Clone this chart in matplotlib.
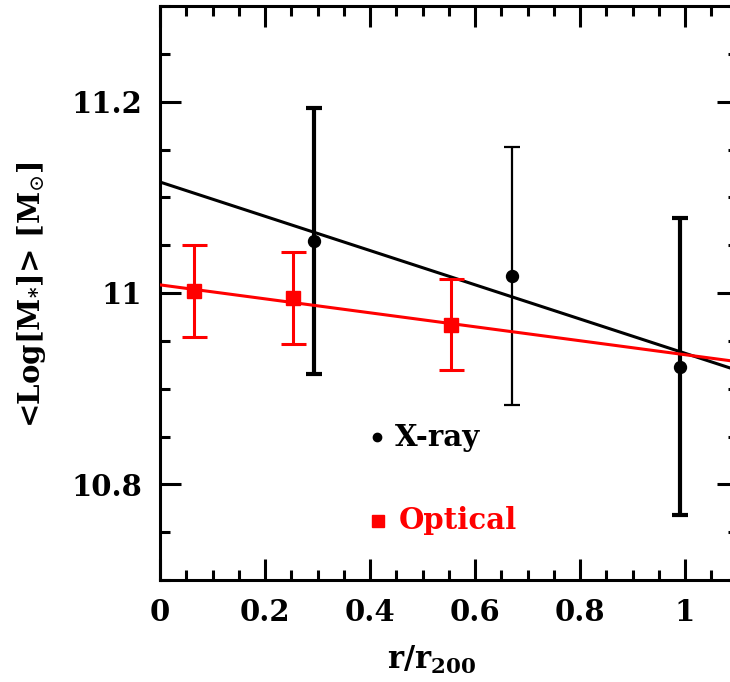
import numpy as np
import matplotlib
matplotlib.use("Agg")
import matplotlib.pyplot as plt
from matplotlib.ticker import MultipleLocator

# Mean stellar mass versus cluster-centric radius
xray_r = [0.293, 0.670, 0.990]
xray_logm = [11.054, 11.018, 10.923]
xray_err = [0.139, 0.135, 0.155]
xray_lw = [3.0, 1.6, 3.0]

opt_r = [0.065, 0.253, 0.554]
opt_logm = [11.002, 10.995, 10.967]
opt_err = [0.048, 0.048, 0.048]

# Linear fits: log M = a + b * r
xray_fit = (11.116, -0.179)
opt_fit = (11.0085, -0.073)

RED = "#ff0000"
FONT = "DejaVu Serif"
plt.rcParams["mathtext.fontset"] = "dejavuserif"

fig = plt.figure(figsize=(7.30, 6.82), dpi=100)
ax = fig.add_axes([160 / 730, 102 / 682, 577.5 / 730, 574 / 682])
ax.set_xlim(0, 1.1)
ax.set_ylim(10.7, 11.3)

rr = np.array([0.0, 1.1])
ax.plot(rr, xray_fit[0] + xray_fit[1] * rr, color="black", lw=2.2, zorder=2)

for r, m, e, lw in zip(xray_r, xray_logm, xray_err, xray_lw):
    ax.errorbar([r], [m], yerr=[e], fmt="o", color="black", ms=8.6,
                elinewidth=lw, capsize=6, capthick=lw, zorder=3)

ax.plot(rr, opt_fit[0] + opt_fit[1] * rr, color=RED, lw=2.2, zorder=4)
ax.errorbar(opt_r, opt_logm, yerr=opt_err, fmt="s", color=RED, ms=9.5,
            elinewidth=2.2, capsize=9, capthick=2.2, zorder=5)

# Legend drawn as labelled markers inside the frame
ax.plot([0.413], [10.849], "o", color="black", ms=6, clip_on=False)
ax.text(0.447, 10.849, "X-ray", color="black", fontsize=21, fontweight="bold",
        family=FONT, va="center", ha="left")
ax.plot([0.415], [10.762], "s", color=RED, ms=8, clip_on=False)
ax.text(0.455, 10.762, "Optical", color=RED, fontsize=21, fontweight="bold",
        family=FONT, va="center", ha="left")

ax.xaxis.set_minor_locator(MultipleLocator(0.05))
ax.yaxis.set_minor_locator(MultipleLocator(0.05))
ax.set_xticks([0, 0.2, 0.4, 0.6, 0.8, 1.0])
ax.set_xticklabels(["0", "0.2", "0.4", "0.6", "0.8", "1"])
ax.set_yticks([10.8, 11.0, 11.2])
ax.set_yticklabels(["10.8", "11", "11.2"])

ax.tick_params(which="both", direction="in", top=True, right=True,
               width=2.2, colors="black")
ax.tick_params(which="major", length=15, pad=13)
ax.tick_params(which="minor", length=7.5)
for lab in ax.get_xticklabels() + ax.get_yticklabels():
    lab.set_fontfamily(FONT)
    lab.set_fontweight("bold")
    lab.set_fontsize(21)
for sp in ax.spines.values():
    sp.set_linewidth(2.2)

fig.text(432 / 730, 1 - 660 / 682, r"r/r$_{\mathbf{200}}$", fontsize=22,
         fontweight="bold", family=FONT, ha="center", va="center")
fig.text(32 / 730, 1 - 295 / 682, r"<Log[M$_{\mathbf{*}}$]> [M$_{\odot}$]",
         fontsize=21, fontweight="bold", family=FONT, rotation=90,
         ha="center", va="center")

fig.savefig("out.png", dpi=100)
